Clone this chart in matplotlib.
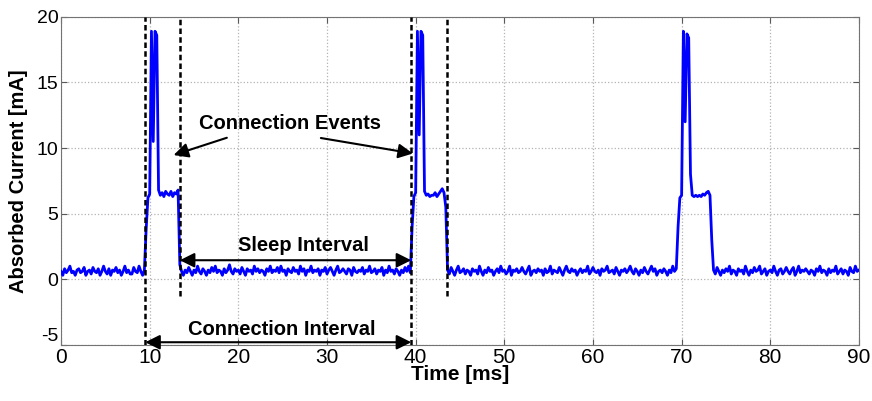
import numpy as np
import matplotlib
matplotlib.use("Agg")
import matplotlib.pyplot as plt
from matplotlib import font_manager

# sampled current trace, one value every 0.2 ms from 0 to 90 ms
time_step_ms = 0.2
current_ma = [
    0.6, 0.3, 0.8, 0.5, 0.7, 1.0, 0.5, 0.6, 0.3, 0.7,
    0.8, 0.5, 0.6, 0.9, 0.3, 0.6, 0.7, 0.4, 0.9, 0.6,
    0.5, 0.8, 0.3, 0.6, 1.0, 0.6, 0.4, 0.8, 0.3, 0.7,
    0.6, 0.9, 0.5, 0.7, 0.3, 0.6, 1.0, 0.5, 0.7, 0.4,
    0.4, 0.9, 0.6, 0.5, 1.0, 0.6, 0.3, 0.7, 3.8, 6.2,
    6.5, 18.9, 10.5, 18.9, 18.6, 6.8, 6.4, 6.6, 6.3, 6.7,
    6.5, 6.4, 6.7, 6.3, 6.6, 6.5, 6.8, 1.1, 0.6, 0.3,
    0.7, 0.5, 0.9, 0.6, 0.3, 0.7, 0.5, 1.0, 0.6, 0.4,
    0.8, 0.6, 0.3, 0.7, 0.5, 0.9, 0.6, 1.0, 0.5, 0.7,
    0.6, 0.3, 0.8, 0.5, 0.7, 1.1, 0.6, 0.4, 0.8, 0.6,
    0.7, 0.4, 0.9, 0.6, 0.3, 0.8, 0.6, 0.7, 0.4, 1.0,
    0.6, 0.8, 0.5, 0.7, 0.6, 0.3, 0.8, 0.6, 1.0, 0.5,
    0.7, 0.6, 0.9, 0.5, 1.0, 0.6, 0.7, 0.3, 0.8, 0.6,
    0.5, 0.9, 0.6, 0.7, 0.4, 1.0, 0.6, 0.8, 0.3, 0.7,
    0.6, 1.0, 0.5, 0.7, 0.6, 0.8, 0.3, 0.7, 0.6, 0.9,
    0.4, 0.7, 0.9, 0.6, 0.3, 0.7, 1.0, 0.5, 0.6, 0.8,
    0.6, 0.4, 0.8, 0.7, 0.3, 0.9, 0.6, 0.5, 0.7, 0.6,
    0.9, 0.4, 0.7, 0.6, 1.0, 0.5, 0.6, 0.8, 0.4, 0.7,
    0.6, 0.9, 0.3, 0.7, 0.5, 1.0, 0.6, 0.7, 0.4, 0.8,
    0.6, 0.3, 0.7, 0.5, 0.9, 0.6, 1.0, 0.5, 4.0, 6.3,
    6.6, 18.9, 11.0, 18.9, 18.6, 6.7, 6.4, 6.5, 6.3, 6.4,
    6.4, 6.6, 6.3, 6.5, 6.7, 6.9, 6.6, 5.5, 0.7, 0.4,
    0.9, 0.6, 0.3, 0.7, 1.0, 0.5, 0.6, 0.8, 0.4, 0.7,
    0.6, 0.3, 0.8, 0.6, 0.7, 0.4, 1.0, 0.6, 0.3, 0.7,
    0.5, 0.9, 0.6, 0.7, 0.3, 0.6, 0.8, 0.5, 1.0, 0.6,
    0.7, 0.4, 0.6, 1.0, 0.3, 0.7, 0.6, 0.8, 0.5, 0.6,
    0.9, 0.6, 0.4, 0.7, 1.0, 0.3, 0.6, 0.7, 0.5, 0.8,
    0.6, 0.7, 0.3, 0.8, 0.5, 0.6, 1.0, 0.4, 0.7, 0.6,
    0.5, 0.9, 0.6, 0.3, 0.7, 1.0, 0.6, 0.5, 0.8, 0.6,
    0.7, 0.3, 0.6, 0.8, 0.5, 0.7, 0.6, 1.0, 0.4, 0.6,
    0.9, 0.6, 0.5, 0.7, 0.3, 0.8, 0.6, 0.7, 1.0, 0.5,
    0.6, 0.7, 0.4, 0.9, 0.6, 0.3, 0.7, 0.6, 0.8, 0.5,
    0.7, 1.0, 0.6, 0.4, 0.8, 0.6, 0.3, 0.7, 0.5, 0.9,
    0.6, 0.4, 0.7, 1.0, 0.6, 0.8, 0.3, 0.6, 0.7, 0.5,
    0.8, 0.6, 0.3, 0.7, 0.5, 1.0, 0.6, 0.8, 4.0, 6.2,
    6.4, 18.9, 12.0, 18.7, 18.4, 8.0, 6.4, 6.3, 6.4, 6.3,
    6.4, 6.3, 6.5, 6.4, 6.6, 6.7, 6.4, 3.0, 0.7, 0.4,
    0.9, 0.6, 0.3, 0.7, 0.5, 0.8, 0.6, 1.0, 0.4, 0.7,
    0.6, 0.3, 0.8, 0.6, 0.7, 0.4, 1.0, 0.6, 0.3, 0.7,
    0.5, 0.9, 0.6, 0.7, 1.0, 0.4, 0.6, 0.8, 0.3, 0.6,
    0.7, 0.5, 1.0, 0.6, 0.3, 0.7, 0.8, 0.4, 0.6, 0.9,
    0.6, 0.4, 0.7, 0.9, 0.3, 0.6, 1.0, 0.5, 0.7, 0.6,
    0.8, 0.6, 0.4, 0.7, 0.6, 0.3, 0.8, 0.6, 1.0, 0.5,
    0.7, 0.6, 0.3, 0.8, 0.5, 0.7, 0.6, 1.0, 0.4, 0.6,
    0.8, 0.4, 0.7, 0.6, 0.3, 0.9, 0.6, 0.5, 1.0, 0.6,
    0.7,
]

# dashed markers (x position, lower end)
marker_x = [9.5, 13.4, 39.5, 43.5]
marker_ymin = [-5, -1.3, -5, -1.3]

x_ticks = [0, 10, 20, 30, 40, 50, 60, 70, 80, 90]
y_ticks = [-5, 0, 5, 10, 15, 20]

# annotation geometry in data units
events_text = (25.8, 11.9)
events_tails = [(19.0, 10.85), (29.0, 10.8)]
events_tips = [(12.4, 9.4), (40.0, 9.55)]
sleep_span = (13.4, 39.5, 1.45)
sleep_text = (27.3, 2.6)
conn_span = (9.5, 39.5, -4.8)
conn_text = (24.9, -3.85)

available = {f.name for f in font_manager.fontManager.ttflist}
main_font = "Liberation Sans" if "Liberation Sans" in available else "DejaVu Sans"
plt.rcParams["font.family"] = main_font
plt.rcParams["axes.unicode_minus"] = False

t = np.arange(len(current_ma)) * time_step_ms

fig = plt.figure(figsize=(8.72, 4.01), dpi=100)
ax = fig.add_axes([0.070, 0.140, 0.915, 0.818])

ax.plot(t, current_ma, color="#0000ff", lw=2.0, zorder=3)

for x, ymin in zip(marker_x, marker_ymin):
    ax.plot([x, x], [ymin, 20], color="black", lw=1.8, dashes=(2.2, 1.3), zorder=4)

arrow_kw = dict(arrowstyle="-|>", color="black", lw=1.5, mutation_scale=22)
for tail, tip in zip(events_tails, events_tips):
    ax.annotate("", xy=tip, xytext=tail, arrowprops=arrow_kw, zorder=5)
ax.text(*events_text, "Connection Events", ha="center", va="center",
        fontsize=14.5, fontweight="bold")

dbl_kw = dict(arrowstyle="<|-|>", color="black", lw=1.5, mutation_scale=22,
              shrinkA=0, shrinkB=0)
ax.annotate("", xy=(sleep_span[0], sleep_span[2]), xytext=(sleep_span[1], sleep_span[2]),
            arrowprops=dbl_kw, zorder=5)
ax.text(*sleep_text, "Sleep Interval", ha="center", va="center",
        fontsize=14.5, fontweight="bold")
ax.annotate("", xy=(conn_span[0], conn_span[2]), xytext=(conn_span[1], conn_span[2]),
            arrowprops=dbl_kw, zorder=5, annotation_clip=False)
ax.text(*conn_text, "Connection Interval", ha="center", va="center",
        fontsize=14.5, fontweight="bold")

ax.set_xlim(0, 90)
ax.set_ylim(-5, 20)
ax.set_xticks(x_ticks)
ax.set_yticks(y_ticks)
ax.tick_params(direction="in", length=4, top=True, right=True, color="0.35",
               labelsize=14, pad=2)
ax.tick_params(axis="x", labelsize=15)
# MATLAB puts the lowest y label slightly above the corner
ax.get_yticklabels()[0].set_verticalalignment("bottom")
ax.grid(True, linestyle=":", color="0.7", lw=0.9)
for sp in ax.spines.values():
    sp.set_color("0.45")

ax.set_xlabel("Time [ms]", fontsize=15, fontweight="bold", labelpad=-1)
ax.set_ylabel("Absorbed Current [mA]", fontsize=14.5, fontweight="bold", labelpad=6)

fig.savefig("out.png", dpi=100)
